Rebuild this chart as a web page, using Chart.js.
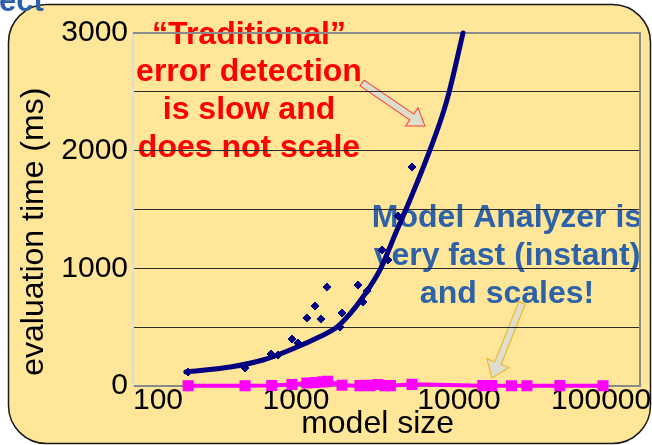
<!DOCTYPE html>
<html>
<head>
<meta charset="utf-8">
<script src="https://cdn.jsdelivr.net/npm/chart.js@4/dist/chart.umd.min.js"></script>
<style>
  html, body { margin: 0; padding: 0; background: #fff; }
</style>
</head>
<body>
<canvas id="chart" width="652" height="445"></canvas>
<script>
// measured points of the "traditional" checker
const traditionalSize = [218, 487, 703, 776, 945, 1029, 1167, 1309, 1423, 1549, 1862, 1916, 2400, 2576, 2729, 3372, 3666, 4225, 5149];
const traditionalTime = [119, 153, 272, 263, 399, 365, 578, 680, 569, 841, 501, 620, 858, 714, 807, 1156, 1071, 1445, 1861];

// trend curve
const trendSize = [211, 394, 627, 1014, 1346, 1785, 2144, 2576, 3275, 4165, 4797, 6637, 8440, 10590];
const trendTime = [119, 161, 221, 331, 408, 501, 612, 756, 986, 1326, 1521, 2006, 2430, 3000];

// Model Analyzer
const analyzerSize = [218, 487, 710, 945, 1167, 1309, 1463, 1566, 1916, 2469, 2652, 2847, 3179, 3512, 3795, 5149, 14000, 15900, 21000, 26100, 41600, 76500];
const analyzerTime = [2, 2, 4, 12, 25, 30, 35, 40, 6, 3, 6, 3, 12, 3, 3, 14, 3, 3, 2, 2, 3, 2];

const xTicks = [100, 1000, 10000, 100000];
const yTicks = [0, 1000, 2000, 3000];

const toPoints = (xs, ys) => xs.map((x, i) => ({ x: x, y: ys[i] }));

const FONT = '"Liberation Sans", Arial, sans-serif';

// block arrow used for the call-outs
function blockArrow(ctx, x0, y0, x1, y1, shaft, head, headLen, stroke) {
  const a = Math.atan2(y1 - y0, x1 - x0);
  const len = Math.hypot(x1 - x0, y1 - y0);
  ctx.save();
  ctx.translate(x0, y0);
  ctx.rotate(a);
  ctx.beginPath();
  ctx.moveTo(0, -shaft);
  ctx.lineTo(len - headLen, -shaft);
  ctx.lineTo(len - headLen, -head);
  ctx.lineTo(len, 0);
  ctx.lineTo(len - headLen, head);
  ctx.lineTo(len - headLen, shaft);
  ctx.lineTo(0, shaft);
  ctx.closePath();
  ctx.fillStyle = '#DCDFCB';
  ctx.fill();
  ctx.lineWidth = 1;
  ctx.strokeStyle = stroke;
  ctx.stroke();
  ctx.restore();
}

function roundedPanel(ctx, x, y, w, h, r) {
  ctx.beginPath();
  ctx.moveTo(x + r, y);
  ctx.arcTo(x + w, y, x + w, y + h, r);
  ctx.arcTo(x + w, y + h, x, y + h, r);
  ctx.arcTo(x, y + h, x, y, r);
  ctx.arcTo(x, y, x + w, y, r);
  ctx.closePath();
}

const slidePanel = {
  id: 'slidePanel',
  beforeDraw(chart) {
    const ctx = chart.ctx;
    ctx.save();
    ctx.fillStyle = '#ffffff';
    ctx.fillRect(0, 0, chart.width, chart.height);

    roundedPanel(ctx, 8.5, 4.5, 642, 439, 38);
    ctx.fillStyle = '#FFE699';
    ctx.fill();
    ctx.lineWidth = 1.5;
    ctx.strokeStyle = '#1a1a1a';
    ctx.stroke();

    // slide title leftover at the top edge
    ctx.fillStyle = '#2E62A8';
    ctx.font = 'bold 31px ' + FONT;
    ctx.textAlign = 'left';
    ctx.textBaseline = 'alphabetic';
    ctx.fillText('ect', -1, 11);

    // red note
    ctx.textAlign = 'center';
    ctx.font = 'bold 32px ' + FONT;
    ctx.fillStyle = '#FF0000';
    ctx.fillText('\u201CTraditional\u201D', 249, 44);
    ctx.fillText('error detection', 249, 81);
    ctx.fillText('is slow and', 249, 119);
    ctx.fillText('does not scale', 249, 157);

    // blue note
    ctx.fillStyle = '#2E62A8';
    ctx.fillText('Model Analyzer is', 507, 227);
    ctx.fillText('very fast (instant)', 507, 265);
    ctx.fillText('and scales!', 507, 303);

    blockArrow(ctx, 362, 83, 425, 126, 3.5, 11, 16, '#FF3B3B');
    blockArrow(ctx, 522, 303, 492, 378, 3.5, 12, 16, '#F2B21C');
    ctx.restore();
  },
  beforeDatasetsDraw(chart) {
    const { ctx, chartArea: a } = chart;
    ctx.save();
    ctx.strokeStyle = '#8a8a8a';
    ctx.lineWidth = 2;
    ctx.beginPath();
    ctx.moveTo(a.left, a.top);
    ctx.lineTo(a.right, a.top);
    ctx.lineTo(a.right, a.bottom);
    ctx.stroke();
    ctx.restore();
  }
};

const chart = new Chart(document.getElementById('chart'), {
  type: 'scatter',
  data: {
    datasets: [
      {
        label: 'Model Analyzer',
        data: toPoints(analyzerSize, analyzerTime),
        showLine: true,
        borderColor: '#FF00FF',
        backgroundColor: '#FF00FF',
        borderWidth: 4,
        pointStyle: 'rect',
        pointRadius: 5,
        clip: false,
        order: 0
      },
      {
        label: 'trend',
        data: toPoints(trendSize, trendTime),
        showLine: true,
        borderColor: '#000080',
        borderWidth: 5,
        pointRadius: 0,
        cubicInterpolationMode: 'monotone',
        borderCapStyle: 'round',
        clip: false,
        order: 1
      },
      {
        label: 'traditional',
        data: toPoints(traditionalSize, traditionalTime),
        borderColor: '#000080',
        backgroundColor: '#000080',
        pointStyle: 'rectRot',
        pointRadius: 4,
        order: 2
      }
    ]
  },
  options: {
    responsive: false,
    animation: false,
    layout: { padding: { left: 0, top: 33, right: 12, bottom: 2 } },
    plugins: {
      legend: { display: false },
      tooltip: { enabled: false }
    },
    scales: {
      x: {
        type: 'logarithmic',
        min: 100,
        max: 129000,
        afterBuildTicks: (scale) => { scale.ticks = xTicks.map(v => ({ value: v })); },
        afterFit: (scale) => {
          scale.height = 57;
          scale.paddingLeft = 0;
          scale.paddingRight = 0;
        },
        grid: { display: false, drawTicks: false },
        border: { display: true, color: '#8a8a8a', width: 2 },
        ticks: {
          color: '#000',
          padding: -3,
          maxRotation: 0,
          autoSkip: false,
          font: { family: FONT, size: 30 },
          callback: (v, i) => {
            // first and last labels pulled inside the frame
            if (i === 0) return '      ' + v;
            if (i === xTicks.length - 1) return v + '     ';
            return String(v);
          }
        },
        title: {
          display: true,
          text: 'model size  ',
          color: '#000',
          font: { family: FONT, size: 32 },
          padding: { top: 0, bottom: 0 }
        }
      },
      y: {
        min: 0,
        max: 3000,
        afterBuildTicks: (scale) => {
          const t = [];
          for (let v = 0; v <= 3000; v += 500) t.push({ value: v });
          scale.ticks = t;
        },
        afterFit: (scale) => { scale.width = 133; },
        grid: { color: '#2b2b2b', lineWidth: 1, drawTicks: false },
        border: { display: true, color: '#dcdcdc', width: 2 },
        ticks: {
          color: '#000',
          padding: 5,
          font: { family: FONT, size: 30 },
          callback: (v) => yTicks.includes(v) ? String(v) : ''
        },
        title: {
          display: true,
          text: 'evaluation time (ms)     ',
          color: '#000',
          font: { family: FONT, size: 32 },
          padding: { top: 15, bottom: 0 }
        }
      }
    }
  },
  plugins: [slidePanel]
});
</script>
</body>
</html>
